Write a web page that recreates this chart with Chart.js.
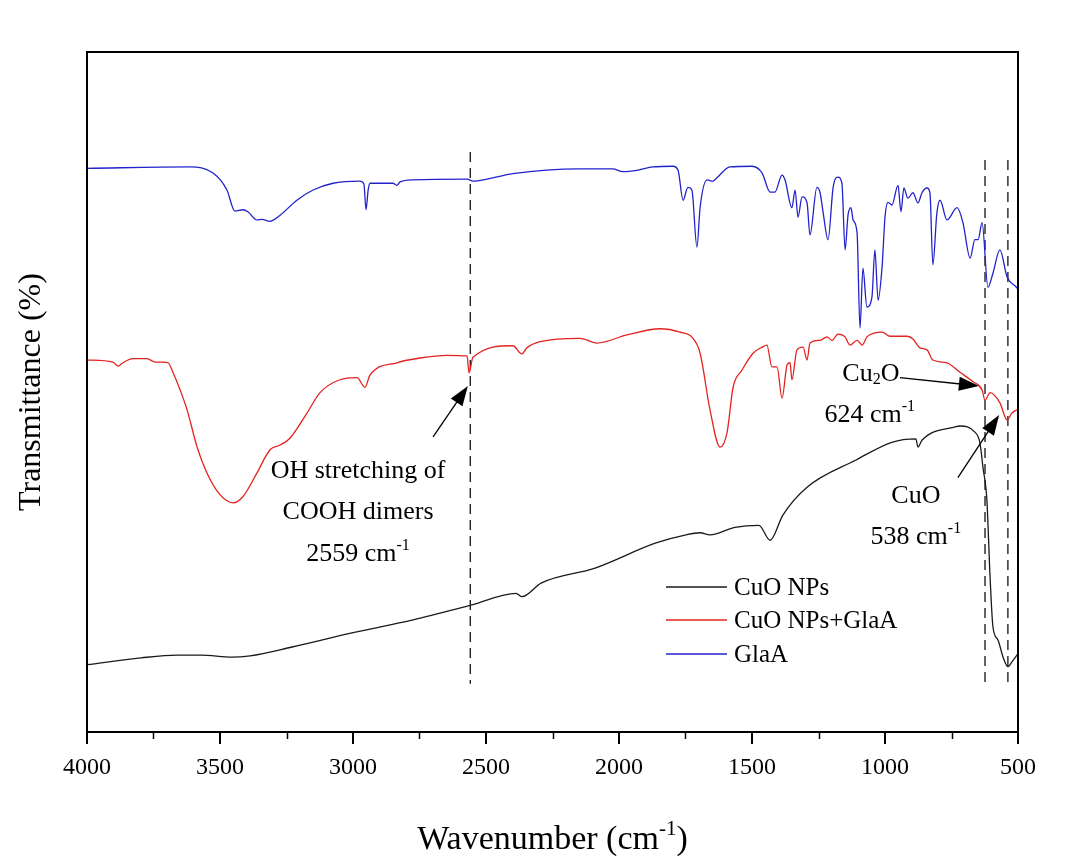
<!DOCTYPE html>
<html>
<head>
<meta charset="utf-8">
<script src="https://cdn.jsdelivr.net/npm/chart.js@4"></script>
<style>
  body { margin: 0; background: #fff; }
  #wrap { width: 1092px; height: 865px; }
</style>
</head>
<body>
<div id="wrap"><canvas id="ftir" width="1092" height="865"></canvas></div>
<script>
// wavenumber (cm-1) and transmittance (arbitrary %, offset traces)
const cuoWn = [4000,3797,3662,3571,3455,3387,3229,3000,2774,2553,2387,2365,2293,2090,1861,1748,1695,1658,1564,1474,1432,1384,1293,1109,974,884,876,861,733,718,662,643,632,617,605,594,575,556,538,523,504,500];
const cuoT = [9.9,10.9,11.3,11.3,11.0,11.2,12.5,14.6,16.5,18.7,20.4,19.9,21.9,24.1,27.8,29.0,29.3,29.0,30.1,30.4,28.2,31.9,36.0,40.0,42.6,43.1,41.9,42.9,44.9,45.0,44.1,42.5,39.0,34.1,22.8,15.4,13.5,11.0,9.6,10.3,11.3,11.5];

const mixWn = [4000,3902,3883,3865,3827,3774,3744,3714,3695,3677,3650,3624,3586,3549,3500,3451,3414,3361,3312,3274,3237,3173,3124,3049,2985,2955,2936,2835,2748,2647,2571,2564,2549,2399,2365,2346,2297,2147,2083,1970,1846,1771,1722,1695,1658,1620,1594,1571,1538,1496,1462,1444,1425,1406,1387,1368,1357,1350,1331,1308,1293,1282,1244,1218,1199,1177,1150,1132,1105,1086,1068,1038,1011,981,917,895,869,842,820,767,718,669,635,624,605,568,541,523,504,500];
const mixT = [54.7,54.4,53.8,54.3,54.9,54.9,54.4,54.4,54.3,52.9,50.3,47.4,41.9,38.1,34.9,33.7,34.6,38.1,41.5,42.2,43.2,46.9,49.9,51.8,52.1,50.7,52.5,54.3,55.0,55.4,55.3,52.8,55.1,56.8,55.6,56.5,57.4,57.9,57.2,58.4,59.3,58.8,57.9,55.7,47.4,41.9,44.0,50.7,53.2,55.7,56.6,56.9,53.7,53.7,49.1,54.0,54.3,51.8,56.2,56.6,54.7,57.2,57.6,58.1,57.6,58.5,58.1,56.9,57.6,56.9,58.1,58.7,58.8,58.2,58.2,57.8,56.5,56.2,54.7,54.3,52.9,51.5,50.3,48.8,49.9,48.4,45.9,46.9,47.4,47.5];

const glaaWn = [4000,3613,3526,3474,3444,3414,3395,3361,3342,3312,3274,3211,3150,3075,2974,2959,2951,2943,2936,2850,2835,2823,2774,2571,2549,2496,2399,2147,2023,1985,1932,1872,1797,1778,1759,1741,1726,1707,1695,1669,1647,1632,1583,1500,1462,1432,1414,1387,1376,1350,1338,1327,1312,1293,1282,1256,1244,1233,1214,1195,1177,1162,1150,1139,1128,1120,1105,1094,1083,1068,1049,1038,1026,1011,1000,989,974,951,940,929,914,895,876,861,842,831,820,805,793,767,729,707,680,662,650,635,613,594,568,541,504,500];
const glaaT = [82.9,83.1,82.2,79.7,76.6,76.8,76.5,75.3,75.4,75.1,76.0,78.2,79.7,80.7,81.0,80.6,76.8,79.7,80.7,80.7,80.4,80.9,81.2,81.3,81.0,81.3,82.1,82.8,82.8,82.4,82.6,83.1,83.2,82.6,78.2,80.1,79.7,71.3,77.2,81.2,81.0,81.5,83.1,83.2,82.2,79.4,79.4,81.9,81.2,77.1,79.7,75.7,78.7,77.8,73.1,80.1,79.3,76.5,72.4,80.1,81.6,80.7,70.9,76.0,77.1,75.3,73.4,59.4,68.2,62.5,64.0,70.9,63.5,68.4,75.7,77.9,77.5,80.4,76.5,80.0,78.5,79.3,77.8,79.3,80.0,79.3,68.7,76.3,78.2,75.3,77.1,74.9,69.7,72.4,72.4,74.9,65.4,67.5,70.9,66.9,65.3,65.0];

const seriesNames = ["CuO NPs", "CuO NPs+GlaA", "GlaA"];
const seriesColors = ["#1a1a1a", "#e3231f", "#2222cc"];

// marker lines (wavenumber, top, bottom)
const markWn = [2559, 624, 538];
const markTop = [85.3, 84.1, 84.1];
const markBottom = [7.1, 6.6, 6.6];

// annotation arrows: [fromWn, fromT, toWn, toT]
const arrows = [
  [2699, 43.4, 2568, 50.9],
  [944, 52.1, 647, 50.9],
  [726, 37.4, 571, 46.6]
];

const FONT = "'Liberation Serif', 'Times New Roman', serif";

function pts(wn, t) {
  return wn.map((w, i) => ({ x: w, y: t[i] }));
}

const datasets = [
  { label: seriesNames[0], data: pts(cuoWn, cuoT), borderColor: seriesColors[0] },
  { label: seriesNames[1], data: pts(mixWn, mixT), borderColor: seriesColors[1] },
  { label: seriesNames[2], data: pts(glaaWn, glaaT), borderColor: seriesColors[2] }
].map(d => Object.assign(d, { borderWidth: 1.3, pointRadius: 0, cubicInterpolationMode: 'monotone', fill: false }));

markWn.forEach((w, i) => {
  datasets.push({
    label: 'mark' + w,
    data: [{ x: w, y: markTop[i] }, { x: w, y: markBottom[i] }],
    borderColor: '#222', borderWidth: 1.4, borderDash: [10, 6], pointRadius: 0
  });
});

// draws text pieces with optional sub/superscripts, centred on x
function richText(ctx, parts, x, y, size) {
  let total = 0;
  parts.forEach(p => {
    ctx.font = (p.s ? size * 0.62 : size) + "px " + FONT;
    p.w = ctx.measureText(p.t).width;
    total += p.w;
  });
  let cx = x - total / 2;
  ctx.textAlign = 'left';
  ctx.textBaseline = 'alphabetic';
  parts.forEach(p => {
    ctx.font = (p.s ? size * 0.62 : size) + "px " + FONT;
    let dy = p.s === 'sup' ? -size * 0.42 : (p.s === 'sub' ? size * 0.12 : 0);
    ctx.fillText(p.t, cx, y + dy);
    cx += p.w;
  });
}

function arrow(ctx, x1, y1, x2, y2) {
  const a = Math.atan2(y2 - y1, x2 - x1);
  const len = 20, hw = 7;
  ctx.beginPath();
  ctx.moveTo(x1, y1);
  ctx.lineTo(x2 - Math.cos(a) * len * 0.8, y2 - Math.sin(a) * len * 0.8);
  ctx.stroke();
  ctx.beginPath();
  ctx.moveTo(x2, y2);
  ctx.lineTo(x2 - Math.cos(a) * len - Math.sin(a) * hw, y2 - Math.sin(a) * len + Math.cos(a) * hw);
  ctx.lineTo(x2 - Math.cos(a) * len + Math.sin(a) * hw, y2 - Math.sin(a) * len - Math.cos(a) * hw);
  ctx.closePath();
  ctx.fill();
}

const decorations = {
  id: 'decorations',
  afterDatasetsDraw(chart) {
    const { ctx, chartArea: { left, right, top, bottom }, scales: { x, y } } = chart;
    ctx.save();
    ctx.fillStyle = '#000';
    ctx.strokeStyle = '#000';

    // frame
    ctx.lineWidth = 2;
    ctx.strokeRect(left, top, right - left, bottom - top);

    // minor ticks
    ctx.lineWidth = 1.5;
    for (let w = 750; w < 4000; w += 500) {
      const px = Math.round(x.getPixelForValue(w)) + 0.5;
      ctx.beginPath();
      ctx.moveTo(px, bottom);
      ctx.lineTo(px, bottom + 7);
      ctx.stroke();
    }

    // arrows
    ctx.lineWidth = 1.3;
    arrows.forEach(a => arrow(ctx, x.getPixelForValue(a[0]), y.getPixelForValue(a[1]),
      x.getPixelForValue(a[2]), y.getPixelForValue(a[3])));

    // annotation text
    const fs = 26;
    const at = (w, t) => [x.getPixelForValue(w), y.getPixelForValue(t)];
    let p;
    p = at(2981, 37.4); richText(ctx, [{ t: 'OH stretching of' }], p[0], p[1], fs);
    p = at(2981, 31.3); richText(ctx, [{ t: 'COOH dimers' }], p[0], p[1], fs);
    p = at(2981, 25.1); richText(ctx, [{ t: '2559 cm' }, { t: '-1', s: 'sup' }], p[0], p[1], fs);
    p = at(1053, 51.6); richText(ctx, [{ t: 'Cu' }, { t: '2', s: 'sub' }, { t: 'O' }], p[0], p[1], fs);
    p = at(1057, 45.6); richText(ctx, [{ t: '624 cm' }, { t: '-1', s: 'sup' }], p[0], p[1], fs);
    p = at(884, 33.7); richText(ctx, [{ t: 'CuO' }], p[0], p[1], fs);
    p = at(884, 27.6); richText(ctx, [{ t: '538 cm' }, { t: '-1', s: 'sup' }], p[0], p[1], fs);

    // legend
    const legY = [587, 620, 654];
    seriesNames.forEach((n, i) => {
      ctx.strokeStyle = seriesColors[i];
      ctx.lineWidth = 1.5;
      ctx.beginPath();
      ctx.moveTo(666, legY[i]);
      ctx.lineTo(727, legY[i]);
      ctx.stroke();
      ctx.fillStyle = '#000';
      ctx.font = "25px " + FONT;
      ctx.textAlign = 'left';
      ctx.textBaseline = 'middle';
      ctx.fillText(n, 734, legY[i] + 1);
    });

    // axis titles
    ctx.fillStyle = '#000';
    richText(ctx, [{ t: 'Wavenumber (cm' }, { t: '-1', s: 'sup' }, { t: ')' }], (left + right) / 2, 849, 34);
    ctx.save();
    ctx.translate(40, (top + bottom) / 2);
    ctx.rotate(-Math.PI / 2);
    richText(ctx, [{ t: 'Transmittance (%)' }], 0, 0, 32);
    ctx.restore();

    ctx.restore();
  }
};

new Chart(document.getElementById('ftir'), {
  type: 'line',
  data: { datasets },
  options: {
    responsive: false,
    animation: false,
    parsing: true,
    layout: { padding: { left: 87, right: 74, top: 52, bottom: 0 } },
    plugins: { legend: { display: false }, tooltip: { enabled: false } },
    scales: {
      x: {
        type: 'linear',
        reverse: true,
        min: 500,
        max: 4000,
        afterFit(scale) { scale.height = 133; },
        border: { display: false },
        grid: { display: true, drawOnChartArea: false, drawTicks: true, tickLength: 12, color: '#000', lineWidth: 2 },
        ticks: {
          stepSize: 500, color: '#000', font: { family: FONT, size: 24 }, padding: 9,
          maxRotation: 0, autoSkip: false,
          callback: v => String(v)
        }
      },
      y: {
        display: false,
        min: 0,
        max: 100
      }
    }
  },
  plugins: [decorations]
});
</script>
</body>
</html>
